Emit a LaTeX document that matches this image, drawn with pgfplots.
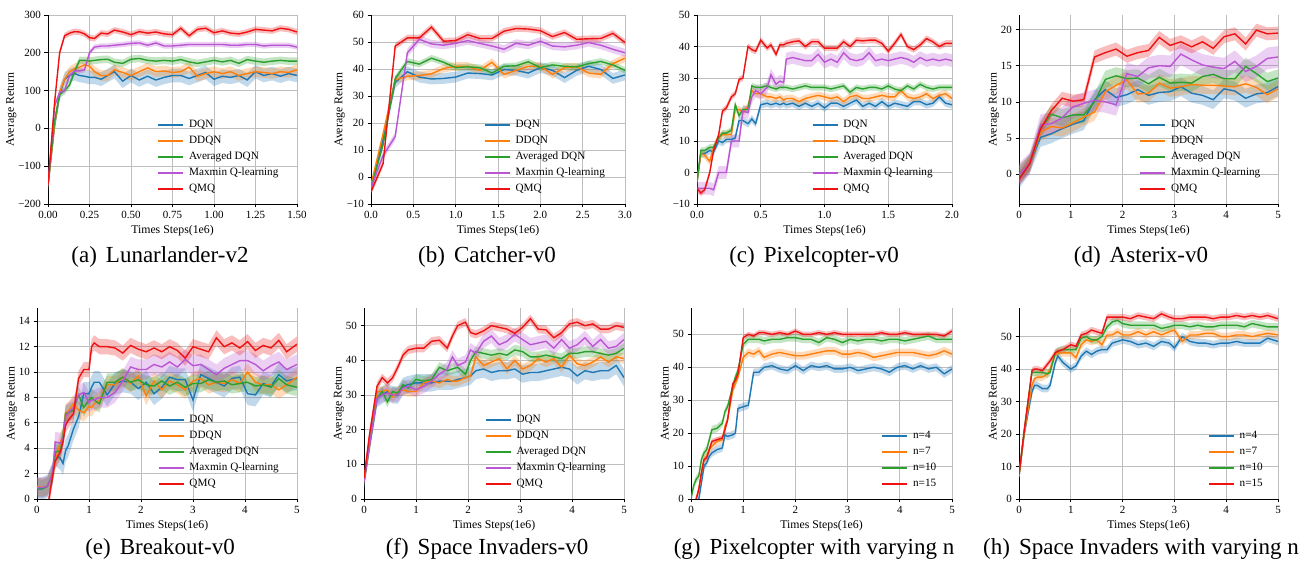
\documentclass[border=0pt]{standalone}
\usepackage{fontspec}
\setmainfont{Liberation Serif}
\usepackage{pgfplots}
\pgfplotsset{compat=1.18}
\usepackage{pgfplotstable}
\usepgfplotslibrary{fillbetween}

\definecolor{cdqn}{HTML}{1F77B4}
\definecolor{cddqn}{HTML}{FF7F0E}
\definecolor{cavg}{HTML}{2CA02C}
\definecolor{cmax}{RGB}{186,85,211}
\definecolor{cqmq}{RGB}{238,18,18}
\definecolor{gridgray}{RGB}{190,190,190}

% (a) Lunarlander-v2
\pgfplotstableread{
x d dd a m q
0 -150 -150 -150 -150 -150
0.04 10 10 20 60 70
0.07 90 95 90 95 200
0.10 130 130 100 100 245
0.13 140 150 115 140 252
0.16 145 158 150 152 256
0.19 140 162 180 152 255
0.22 138 168 180 155 250
0.25 135 165 178 200 240
0.28 135 150 180 215 238
0.32 130 140 182 218 252
0.36 140 140 183 218 250
0.40 150 155 175 220 260
0.45 125 148 172 222 255
0.50 140 140 183 225 248
0.55 128 150 185 226 256
0.60 138 160 180 220 252
0.65 128 150 178 226 255
0.70 135 152 180 218 250
0.75 140 148 178 218 248
0.80 140 150 182 220 265
0.85 132 162 176 222 245
0.90 140 138 172 222 262
0.95 148 145 176 222 265
1.00 130 150 180 222 253
1.05 138 145 176 222 258
1.10 135 150 180 220 252
1.15 140 140 172 220 250
1.20 128 145 182 222 255
1.25 150 150 178 222 262
1.30 140 148 175 218 260
1.35 145 145 178 220 258
1.40 138 150 180 220 265
1.45 145 148 178 220 262
1.50 140 155 178 215 255
}\tA

% (b) Catcher-v0
\pgfplotstableread{
x d dd a m q
0 -4 -3 -4 -4 -5.5
0.143 14 16 12 8 5
0.286 35 36 36.5 15 48.5
0.429 39 37.3 42.8 46 51.5
0.571 37 37.6 41.8 51 51.5
0.714 36.3 38.2 44 49.3 55.5
0.857 36.5 40.2 42.5 48.8 50.3
1.0 37 41 40.5 49.5 50.5
1.143 38.5 41 40.8 50.5 52.7
1.286 38.3 39.5 40.5 49.5 51.3
1.429 37.8 42.5 38.5 48.5 51.3
1.571 39.8 38 41 47.3 54
1.714 39.5 39.5 41.2 49.5 55
1.857 38.5 41 42.7 48.8 54.8
2.0 40.5 41 40.5 50.3 54.2
2.143 39.5 38 41.5 48.5 52
2.286 36.8 40.5 41 48.2 53.5
2.429 39.5 40.8 40.8 48.8 51
2.571 41 38.5 42 49.8 51.2
2.714 39.8 38 42.8 48.8 51.3
2.857 36.5 42 41.5 47.3 53.2
3.0 37.8 44 39.5 46 49.8
}\tB

% (c) Pixelcopter-v0
\pgfplotstableread{
x d dd a m q
0 -3 -3 -3 -5 -5
0.03 6 6 7 -5 -6.5
0.06 6 5.5 7 -5 -5.5
0.1 7 3.5 8 -5 0
0.13 6.5 8 8 -5.5 7
0.17 10 11 11 0 12
0.2 9.5 12 12.5 0 19.5
0.23 10.5 12 12.5 0 20.5
0.27 10.5 12 13.5 10 24
0.3 11 20 21.5 10 25
0.33 16.5 20 18 10 29.5
0.36 16.5 19 20 19.5 30
0.4 15.5 21 20 19 40
0.43 17 26 27.5 24 39
0.46 15.5 25 27 26 38.5
0.5 21.5 25 27 25 42
0.55 22 24 27.5 27 39.5
0.58 21.5 24 27 31 40.5
0.62 22 23.5 26.5 28 37.5
0.65 21.5 24 27 29 40.5
0.68 22 23 27 28.5 40.5
0.7 21.5 23.5 27 36 41
0.75 22 23.5 26.5 36.5 41.5
0.8 21 22.5 27 36 41.8
0.85 22 23.5 27.5 35.5 40
0.9 21 24 27 35.5 41.5
0.95 22 24.5 27 37.5 41.5
1.0 20.5 24 27 35 39.5
1.05 22 23.5 26.5 36 39.5
1.1 22 24 27 35 39.5
1.15 21 22.5 27.5 38 41.5
1.2 22 24 25.5 36 40
1.25 23 24.5 27 35.5 42
1.3 21 23.5 26.5 36 41.8
1.35 22 23.5 27 38 42
1.4 21 24 27 35.5 42
1.45 22.5 24.5 26.5 36 41
1.5 21 24 27.5 35.5 38.5
1.55 22 24 26.5 36 41
1.6 21.5 26 26 36.5 43.8
1.65 21 24 27.5 36 40
1.7 22.5 23.5 26.5 35 39
1.75 22.5 24 28 36.5 40.5
1.8 21.5 25 27 35.5 42.5
1.85 22 23.5 26.5 36 41.5
1.9 24 24.5 27 35.5 40
1.95 22 25 27 36 41
2.0 21.5 23.5 27 35.5 41
}\tC

% (d) Asterix-v0
\pgfplotstableread{
x d dd a m q
0 -0.7 0 0 0 -0.7
0.208 1.5 1.5 1.5 1.5 1.5
0.417 5.1 5.8 6.3 6.8 6.3
0.625 5.6 6.6 8.3 7 8.8
0.833 6.3 6.4 7.8 7.8 10.5
1.042 6.9 7.1 8.2 9.3 10.1
1.25 7.4 7.9 8.2 9.8 10.3
1.458 10.3 8.6 10 10.2 16.2
1.667 11.7 11.4 13.1 10 16.8
1.875 10.6 12.3 13.6 9.6 17.3
2.083 11 13 13.2 13.9 16.3
2.292 11.7 11.1 13.3 13.5 16.8
2.5 10.9 11.2 12.5 14.7 17.1
2.708 11.3 12.6 13.4 15 18.9
2.917 11.4 11.9 12.6 14.9 17.8
3.125 12.1 12.1 12.7 16.6 18.3
3.333 11.2 12.4 12.6 15.8 17.6
3.542 10.9 12.3 13.5 15.1 18.3
3.75 10.3 12.3 13.8 14.8 17.4
3.958 11.8 12.2 13.2 14.6 19
4.167 11.5 12.1 13.2 15.6 19.4
4.375 10.5 12.5 14.9 14.2 18
4.583 11.1 12 13.9 14.9 19.9
4.792 11.3 11 12.8 16 19.4
5.0 12.1 11.8 13.3 16.2 19.5
}\tD

% (e) Breakout-v0
\pgfplotstableread{
x d dd a m q
0 0.8 1 0.9 0.9 -3
0.1 0.8 0.9 0.8 0.9 -2
0.2 1 1 1 1 -0.8
0.3 2 2 2 2 1.8
0.35 3.5 3 3.7 4.5 3
0.45 3.2 4.5 3.8 4.4 3.7
0.5 2.8 5 5 4.7 4.5
0.55 3.8 6.8 6.7 6.5 5.8
0.6 4.2 6.9 6.8 6.8 6.2
0.7 5.5 7.5 7 7.2 6.7
0.8 6.5 7 8.2 8.2 9.5
0.9 8.3 6.8 7.2 8.4 10.2
1.0 8.3 7.3 7.8 7.6 10.2
1.05 8.8 7.2 8 7.8 12
1.1 9.2 7.5 7.8 7.8 12.3
1.2 9.2 7.8 7.5 8 12
1.35 8.2 9 9.2 8 12
1.5 9.1 9 9.2 8.4 11.9
1.65 9.3 9.6 9.6 9.3 11.5
1.8 9.2 9.1 9.2 10.4 12.1
1.95 8.7 9.7 9.4 10.2 11.8
2.1 9.2 8.1 9 10.2 11.6
2.25 8.3 9.3 8.9 10.6 11.9
2.4 8.8 8.6 9.3 10.4 11.6
2.55 9.6 9.3 8.9 10.8 12
2.7 9.4 9 9.2 10.4 11.7
2.85 9.4 8.6 8.8 11 11.1
3.0 7.8 9.3 9.1 10.5 12
3.15 9.8 9.5 9.1 10.6 11.8
3.3 9.5 9 9.4 10.2 11.6
3.45 9.2 9.2 9.2 9.8 12.7
3.6 8.9 9.1 9.3 10.3 12
3.75 9.5 9.4 9 10.6 12.3
3.9 9.6 9.1 9.1 10.9 11.9
4.05 8.3 10 9.2 10.9 12.4
4.2 8.2 9.2 8.9 10.6 11.7
4.35 9.1 9 9 10.1 12.1
4.5 8.9 9 8.8 10.5 11.9
4.65 9.8 8.6 9.5 10.8 12.5
4.8 9.3 9 9 10.2 11.6
5.0 9.5 9.6 8.8 10.6 12.2
}\tE

% (f) Space Invaders-v0
\pgfplotstableread{
x d dd a m q
0 5 5 5 5 6
0.1 15 15 15 15 18
0.25 29 31 29 29 32.5
0.35 30 31 31 30 35
0.45 31 31.5 28 30.5 33.5
0.55 30 29.5 31 30 35
0.65 30 31 30.5 30 38
0.75 32.5 31.5 33 32 41.5
0.85 33 31 32 32.5 43
1.0 33.5 31 34.5 31.5 43.5
1.15 33.5 33.5 34 32.5 43.5
1.3 33.5 34 34.5 34 45.5
1.45 34 33.5 38 36 45.8
1.6 34 34.5 37 37.5 43.5
1.7 34 34 37.5 41 47
1.8 34.5 34 38 38.5 50
1.95 35 35 36 39.5 51
2.05 35.5 35.5 40 43 48
2.15 37 41 42.5 42 47.5
2.3 37.5 38.5 42 45.5 48.5
2.45 36.5 39.5 41.5 47 50
2.6 37 40.5 42 44.5 49.5
2.75 37 37.5 41.5 45.5 49
2.9 37.5 40 43 47.5 47.8
3.05 36 37.5 42.5 46 49.5
3.2 36.5 38.5 41 44.5 52
3.35 36.5 40.5 41 45 49
3.5 37 39.5 41.5 45.5 48.8
3.65 37.5 40.5 41 43.5 46.5
3.8 38 38 40.5 46 48
3.95 37.5 41.5 42 43.5 50.5
4.1 35.5 39 42 44.5 51
4.25 37 38.5 42.5 46.5 50
4.4 36.5 39.5 42.5 44 50.5
4.55 37 41 42 46 49
4.7 37 39.5 41.5 43.5 49
4.85 38.5 41 42 44 50
5.0 35 40.5 43.5 46 49.5
}\tF

% (g) Pixelcopter with varying n
\pgfplotstableread{
x n4 n7 n10 n15
0 -3 -2 0 -3
0.05 -3 -2 4 -3
0.1 -2 0 6 0
0.15 0 3 7 3
0.2 5 8 12 8
0.25 10 12 14 12
0.3 11 13 15 12.5
0.35 13 15 18 15
0.4 14 16 21 17.5
0.5 15 17.5 21.5 18
0.6 15.5 18 23 18.5
0.65 19.5 22 26.5 21
0.7 19 24 28 24
0.8 19.5 33 34 35
0.85 20 35 37 36
0.9 27.5 37 39 38
1.0 28 43 47 49
1.1 28.5 44.5 48.5 50
1.2 38.5 44 48.5 49.5
1.3 38.5 45 48.5 50.5
1.4 40 43 48 50.5
1.55 40.5 44 48.5 50
1.7 39.5 44.5 48.5 50.5
1.85 39 44 49 50
2.0 40.5 43.5 49 51
2.15 39 43.5 48.5 50
2.3 40.5 44 48.5 50
2.45 40 44.5 47.5 50.5
2.6 40.5 45 49 50
2.75 39.5 45 48.5 50.5
2.9 39.5 44 47.5 50
3.05 40 44 48.5 50
3.2 39 44.5 48 50
3.35 39.5 44 48.5 50
3.5 40 43 48.5 50
3.65 39.5 43.5 48 50.5
3.8 38.5 44 48.5 50
3.95 40 44.5 48.5 50
4.1 40.5 44.5 48 50.5
4.25 39.5 44.5 48.5 50
4.4 40.5 44 49 50
4.55 39.5 43.5 49.5 50
4.7 40 44 48.5 50
4.85 38 45 48.5 49.5
5.0 39.5 44 48.5 51
}\tG

% (h) Space Invaders with varying n
\pgfplotstableread{
x n4 n7 n10 n15
0 7 7 7.5 7.5
0.1 20 20 21 21
0.25 33 35 39 39.5
0.3 35 37 39 40
0.35 35 37.5 39 40
0.45 34 37.5 39 39.5
0.55 34 38.5 38.5 41.5
0.6 35 40 39 42.5
0.7 42 44.5 45 45
0.75 44 45 45.5 45.5
0.85 42 45 46 46
1.0 40 45 46 47.5
1.1 41 43.5 46 47
1.2 44 47.5 49.5 50.5
1.3 45.5 49 50 51
1.4 44.5 48.5 49 52
1.5 45.5 49 49 51.5
1.6 46 47.5 50 51
1.7 46 50.5 53 56
1.8 48 50.5 54.5 56
1.9 48.5 51.5 55 56
2.0 49 50.5 54 56
2.15 48.5 50.5 53.5 55.5
2.3 47.5 51.5 53.5 56.5
2.45 48 50.5 53.5 56
2.6 47 51.5 53.5 55.5
2.75 48.5 50.5 52.5 57
2.9 48 51.5 53 56
3.0 46.5 52 53.5 55.5
3.15 50 48.5 53.5 55.5
3.3 48.5 50.5 53 56
3.45 48 50.5 53.5 56
3.6 48 51 53 56
3.75 47.5 51 53 55.5
3.9 48 50 53.5 56
4.05 48 50 53.5 56
4.2 48.5 50.5 53.5 56.5
4.35 48 50.5 53 56
4.5 48 50 54 56.5
4.65 48 50.5 53.5 56
4.8 49.5 51 53 56.5
5.0 48.5 50.5 53 55.5
}\tH

% mean line with a shaded band of half-width #4
\newcommand{\curve}[6]{%
  \addplot[name path=#2U, draw=none, forget plot] table[x=x, y expr=\thisrow{#3}+#4] {#1};
  \addplot[name path=#2L, draw=none, forget plot] table[x=x, y expr=\thisrow{#3}-#4] {#1};
  \addplot[#5, fill opacity=0.28, draw=none, forget plot] fill between[of=#2U and #2L];
  \addplot[#5, line width=1.4pt] table[x=x, y=#3] {#1};
  \addlegendentry{#6}%
}

\pgfplotsset{
  panel/.style={
    scale only axis,
    axis x line*=bottom, axis y line*=left,
    axis line style={black, line width=0.8pt},
    grid=major, major grid style={color=gridgray, line width=0.9pt},
    tick align=outside, major tick length=3.5pt, tick style={black, line width=0.7pt},
    /pgf/number format/assume math mode=true,
    tick label style={font=\fontsize{11}{12}\selectfont},
    label style={font=\fontsize{11.8}{12}\selectfont},
    ylabel shift=-5pt,
    xlabel={Times Steps(1e6)}, ylabel={Average Return},
    legend cell align=left,
    legend style={draw=none, fill=none, inner sep=0pt, row sep=3.5pt, column sep=4pt,
      font=\fontsize{11.2}{12}\selectfont,
      nodes={inner sep=1pt, text height=8pt, text depth=2.5pt}},
    legend image code/.code={\draw[##1] (0pt,0pt) -- (25pt,0pt);},
  },
}
\tikzset{subcap/.style={font=\fontsize{23}{24}\selectfont, anchor=base}}

\begin{document}
\begin{tikzpicture}

% (a)
\begin{axis}[panel, at={(48pt,357pt)}, anchor=south west, width=249pt, height=189pt,
  xmin=0, xmax=1.5, ymin=-200, ymax=300,
  xtick={0,0.25,0.5,0.75,1,1.25,1.5}, xticklabels={0.00,0.25,0.50,0.75,1.00,1.25,1.50},
  ytick={-200,-100,0,100,200,300}, yticklabels={−200,−100,0,100,200,300},
  legend style={at={(0.44,0.045)}, anchor=south west}]
\curve{\tA}{aa}{d}{18}{cdqn}{DQN}
\curve{\tA}{ab}{dd}{14}{cddqn}{DDQN}
\curve{\tA}{ac}{a}{10}{cavg}{Averaged DQN}
\curve{\tA}{ad}{m}{7}{cmax}{Maxmin Q-learning}
\curve{\tA}{ae}{q}{8}{cqmq}{QMQ}
\end{axis}

% (b)
\begin{axis}[panel, at={(371pt,357pt)}, anchor=south west, width=254pt, height=189pt,
  xmin=0, xmax=3, ymin=-10, ymax=60,
  xtick={0,0.5,1,1.5,2,2.5,3}, xticklabels={0.0,0.5,1.0,1.5,2.0,2.5,3.0},
  ytick={-10,0,10,20,30,40,50,60}, yticklabels={−10,0,10,20,30,40,50,60},
  legend style={at={(0.445,0.045)}, anchor=south west}]
\curve{\tB}{ba}{d}{2}{cdqn}{DQN}
\curve{\tB}{bb}{dd}{1.5}{cddqn}{DDQN}
\curve{\tB}{bc}{a}{1.2}{cavg}{Averaged DQN}
\curve{\tB}{bd}{m}{1.5}{cmax}{Maxmin Q-learning}
\curve{\tB}{be}{q}{1.2}{cqmq}{QMQ}
\end{axis}

% (c)
\begin{axis}[panel, at={(697pt,357pt)}, anchor=south west, width=255pt, height=189pt,
  xmin=0, xmax=2, ymin=-10, ymax=50,
  xtick={0,0.5,1,1.5,2}, xticklabels={0.0,0.5,1.0,1.5,2.0},
  ytick={-10,0,10,20,30,40,50}, yticklabels={−10,0,10,20,30,40,50},
  legend style={at={(0.45,0.045)}, anchor=south west}]
\curve{\tC}{ca}{d}{1.2}{cdqn}{DQN}
\curve{\tC}{cb}{dd}{1.2}{cddqn}{DDQN}
\curve{\tC}{cc}{a}{1}{cavg}{Averaged DQN}
\curve{\tC}{cd}{m}{2}{cmax}{Maxmin Q-learning}
\curve{\tC}{ce}{q}{1}{cqmq}{QMQ}
\end{axis}

% (d)
\begin{axis}[panel, at={(1019pt,357pt)}, anchor=south west, width=259pt, height=189pt,
  xmin=0, xmax=5, ymin=-4.1, ymax=22,
  xtick={0,1,2,3,4,5}, ytick={0,5,10,15,20},
  legend style={at={(0.465,0.045)}, anchor=south west}]
\curve{\tD}{da}{d}{1.3}{cdqn}{DQN}
\curve{\tD}{db}{dd}{1.2}{cddqn}{DDQN}
\curve{\tD}{dc}{a}{1.2}{cavg}{Averaged DQN}
\curve{\tD}{dd}{m}{1.5}{cmax}{Maxmin Q-learning}
\curve{\tD}{de}{q}{0.9}{cqmq}{QMQ}
\end{axis}

% (e)
\begin{axis}[panel, at={(37pt,62pt)}, anchor=south west, width=260pt, height=191pt,
  xmin=0, xmax=5, ymin=0, ymax=15.05,
  xtick={0,1,2,3,4,5}, ytick={0,2,4,6,8,10,12,14},
  legend style={at={(0.465,0.045)}, anchor=south west}]
\curve{\tE}{ea}{d}{0.9}{cdqn}{DQN}
\curve{\tE}{eb}{dd}{0.7}{cddqn}{DDQN}
\curve{\tE}{ec}{a}{0.7}{cavg}{Averaged DQN}
\curve{\tE}{ed}{m}{0.8}{cmax}{Maxmin Q-learning}
\curve{\tE}{ee}{q}{0.6}{cqmq}{QMQ}
\end{axis}

% (f)
\begin{axis}[panel, at={(364pt,62pt)}, anchor=south west, width=260pt, height=191pt,
  xmin=0, xmax=5, ymin=0, ymax=55.1,
  xtick={0,1,2,3,4,5}, ytick={0,10,20,30,40,50},
  legend style={at={(0.465,0.045)}, anchor=south west}]
\curve{\tF}{fa}{d}{2.5}{cdqn}{DQN}
\curve{\tF}{fb}{dd}{1.5}{cddqn}{DDQN}
\curve{\tF}{fc}{a}{1.5}{cavg}{Averaged DQN}
\curve{\tF}{fd}{m}{2}{cmax}{Maxmin Q-learning}
\curve{\tF}{fe}{q}{1.2}{cqmq}{QMQ}
\end{axis}

% (g)
\begin{axis}[panel, at={(691pt,62pt)}, anchor=south west, width=261pt, height=191pt,
  xmin=0, xmax=5, ymin=0, ymax=58,
  xtick={0,1,2,3,4,5}, ytick={0,10,20,30,40,50},
  legend style={at={(0.73,0.045)}, anchor=south west}]
\curve{\tG}{ga}{n4}{1.2}{cdqn}{n=4}
\curve{\tG}{gb}{n7}{1.2}{cddqn}{n=7}
\curve{\tG}{gc}{n10}{1.2}{cavg}{n=10}
\curve{\tG}{gd}{n15}{0.8}{cqmq}{n=15}
\end{axis}

% (h)
\begin{axis}[panel, at={(1019pt,62pt)}, anchor=south west, width=259pt, height=191pt,
  xmin=0, xmax=5, ymin=0, ymax=58.8,
  xtick={0,1,2,3,4,5}, ytick={0,10,20,30,40,50},
  legend style={at={(0.73,0.045)}, anchor=south west}]
\curve{\tH}{ha}{n4}{1.2}{cdqn}{n=4}
\curve{\tH}{hb}{n7}{1.2}{cddqn}{n=7}
\curve{\tH}{hc}{n10}{1.2}{cavg}{n=10}
\curve{\tH}{hd}{n15}{1}{cqmq}{n=15}
\end{axis}

\node[subcap] at (160pt,298pt) {(a)\hspace{9pt}Lunarlander-v2};
\node[subcap] at (487pt,298pt) {(b)\hspace{9pt}Catcher-v0};
\node[subcap] at (814pt,298pt) {(c)\hspace{9pt}Pixelcopter-v0};
\node[subcap] at (1141pt,298pt) {(d)\hspace{9pt}Asterix-v0};
\node[subcap] at (160pt,6pt) {(e)\hspace{9pt}Breakout-v0};
\node[subcap] at (487pt,6pt) {(f)\hspace{9pt}Space Invaders-v0};
\node[subcap] at (814pt,6pt) {(g)\hspace{9pt}Pixelcopter with varying n};
\node[subcap] at (1141pt,6pt) {(h)\hspace{9pt}Space Invaders with varying n};

\pgfresetboundingbox
\path (0,0) rectangle (1307pt,561pt);
\end{tikzpicture}
\end{document}
